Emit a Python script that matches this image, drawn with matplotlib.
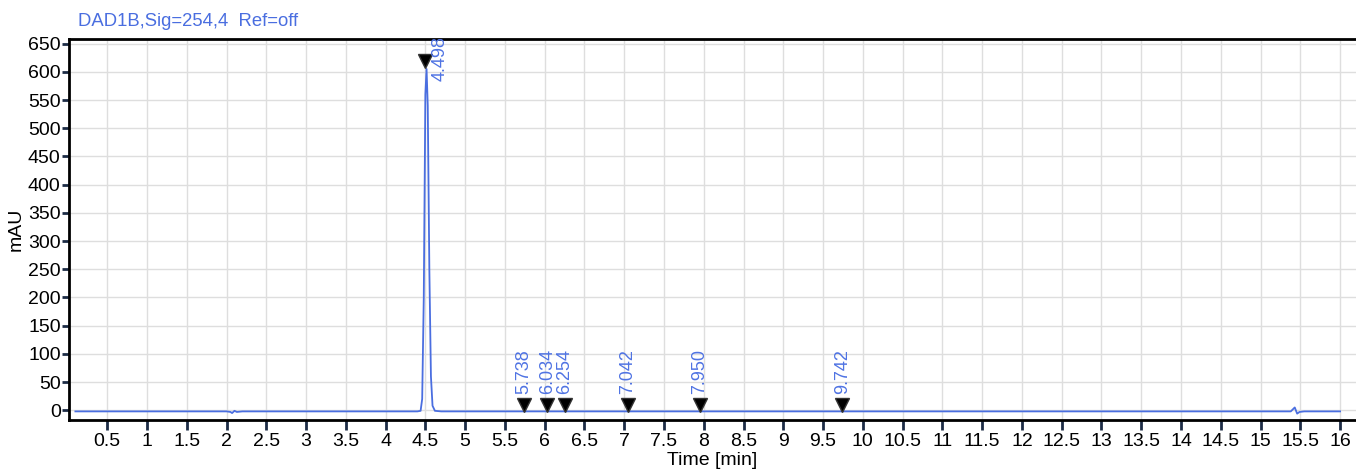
import matplotlib.pyplot as plt

plt.rcParams['font.family'] = ['Liberation Sans', 'DejaVu Sans']

# trace (time in min, signal in mAU)
time = [0.10, 2.00, 2.05, 2.07, 2.10, 2.13, 2.20, 4.40, 4.44, 4.46, 4.48,
        4.50, 4.515, 4.53, 4.55, 4.57, 4.59, 4.62, 4.70, 6.00, 8.00, 10.00,
        12.00, 14.00, 15.38, 15.43, 15.46, 15.49, 15.55, 16.00]
signal = [-2, -2, -3, -5, -1, -3, -2, -2, -1, 20, 200,
          560, 605, 540, 250, 60, 8, -1, -2, -2, -2, -2,
          -2, -2, -2, 5, -6, -3, -2, -2]

# integrated peaks
peak_rt = [4.498, 5.738, 6.034, 6.254, 7.042, 7.950, 9.742]
peak_mark = [620, 10, 10, 10, 10, 10, 10]
peak_labels = ['4.498', '5.738', '6.034', '6.254', '7.042', '7.950', '9.742']

blue = '#4a6ee0'
label_blue = '#4f73e3'

fig = plt.figure(figsize=(13.56, 4.71), dpi=100)
ax = fig.add_axes([0.0509, 0.108, 0.9491, 0.809])

ax.plot(time, signal, color=blue, linewidth=1.3, zorder=3)
ax.plot(peak_rt, peak_mark, linestyle='none', marker='v', markersize=10,
        color='black', markeredgecolor='#333333', zorder=4)

for rt, y, lab in zip(peak_rt, peak_mark, peak_labels):
    if y > 300:
        # big peak: label pushed to the right of the marker
        ax.annotate(lab, (rt, y), xytext=(11, -15), textcoords='offset points',
                    rotation=90, ha='center', va='bottom', color=label_blue,
                    fontsize=13, annotation_clip=False, clip_on=True, zorder=5)
    else:
        ax.annotate(lab, (rt, y), xytext=(0, 8), textcoords='offset points',
                    rotation=90, ha='center', va='bottom', color=label_blue,
                    fontsize=13, zorder=5)

ax.set_xlim(0.02, 16.2)
ax.set_ylim(-17.5, 658)

xt = [i * 0.5 for i in range(1, 33)]
ax.set_xticks(xt)
ax.set_xticklabels(['%g' % v for v in xt])
yt = list(range(0, 651, 50))
ax.set_yticks(yt)

ax.grid(True, color='#dedede', linewidth=1.0)
ax.set_axisbelow(True)

for s in ['left', 'top', 'bottom']:
    ax.spines[s].set_linewidth(2)
    ax.spines[s].set_color('black')
ax.spines['right'].set_visible(False)

ax.tick_params(axis='x', direction='out', length=7, width=2, color='#1c2b45',
               labelsize=14, pad=2)
ax.tick_params(axis='y', direction='out', length=5, width=2, color='#1c2b45',
               labelsize=14, pad=1)

ax.set_xlabel('Time [min]', fontsize=14, labelpad=2)
ax.set_ylabel('mAU', fontsize=14, labelpad=2)

fig.text(0.0575, 0.955, 'DAD1B,Sig=254,4  Ref=off', color='#4a6ee0',
         fontsize=13.3, ha='left', va='center')

fig.savefig('out.png', dpi=100)
